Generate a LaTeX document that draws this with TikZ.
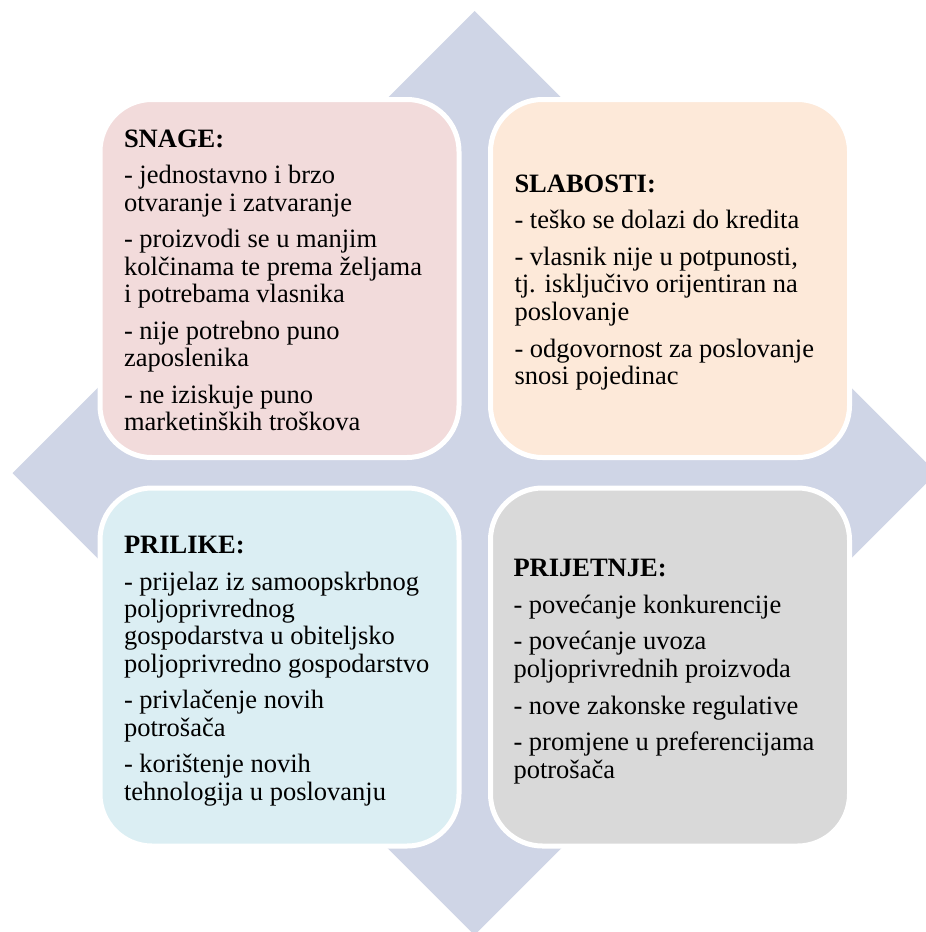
\documentclass[tikz,border=0pt]{standalone}
\usepackage{fontspec}
\setmainfont{Liberation Serif}
\usetikzlibrary{calc}
\definecolor{diamc}{HTML}{CFD5E6}
\definecolor{pinkc}{HTML}{F2DBDB}
\definecolor{peachc}{HTML}{FDE9D9}
\definecolor{bluec}{HTML}{DBEEF3}
\definecolor{greyc}{HTML}{D9D9D9}
\begin{document}
\begin{tikzpicture}[x=1pt,y=-1pt,
  quad/.style={draw=white, line width=5pt, rounded corners=52pt, minimum width=359pt,
    minimum height=358pt, inner sep=0pt, outer sep=0pt},
  txt/.style={anchor=north west, align=left, inner sep=0pt, outer sep=0pt,
    font=\fontsize{26.5}{27.3}\selectfont}]
\useasboundingbox (0,0) rectangle (926,932);
\begin{scope}
  \clip (0,0) rectangle (926,932);
  \fill[diamc] (474.5,11) -- (936.5,473) -- (474.5,935) -- (12.5,473) -- cycle;
\end{scope}
\node[quad, fill=pinkc] (snage) at (279.5,278.5) {};
\node[quad, fill=peachc] (slabosti) at (670,278.5) {};
\node[quad, fill=bluec] (prilike) at (279.5,667) {};
\node[quad, fill=greyc] (prijetnje) at (670,667) {};

\node[txt] (tsnage) at ($(snage.north west)+(24,30)$) {\textbf{SNAGE:}\\[9.5pt]
- jednostavno i brzo\\
otvaranje i zatvaranje\\[9.5pt]
- proizvodi se u manjim\\
kolčinama te prema željama\\
i potrebama vlasnika\\[9.5pt]
- nije potrebno puno\\
zaposlenika\\[9.5pt]
- ne iziskuje puno\\
marketinških troškova};

\node[txt] (tslabosti) at ($(slabosti.north west)+(24,75)$) {\textbf{SLABOSTI:}\\[9.5pt]
- teško se dolazi do kredita\\[9.5pt]
- vlasnik nije u potpunosti,\\
tj. isključivo orijentiran na\\
poslovanje\\[9.5pt]
- odgovornost za poslovanje\\
snosi pojedinac};

\node[txt] (tprilike) at ($(prilike.north west)+(24,48)$) {\textbf{PRILIKE:}\\[9.5pt]
- prijelaz iz samoopskrbnog\\
poljoprivrednog\\
gospodarstva u obiteljsko\\
poljoprivredno gospodarstvo\\[9.5pt]
- privlačenje novih\\
potrošača\\[9.5pt]
- korištenje novih\\
tehnologija u poslovanju};

\node[txt] (tprijetnje) at ($(prijetnje.north west)+(23,71)$) {\textbf{PRIJETNJE:}\\[9.5pt]
- povećanje konkurencije\\[9.5pt]
- povećanje uvoza\\
poljoprivrednih proizvoda\\[9.5pt]
- nove zakonske regulative\\[9.5pt]
- promjene u preferencijama\\
potrošača};
\end{tikzpicture}
\end{document}
